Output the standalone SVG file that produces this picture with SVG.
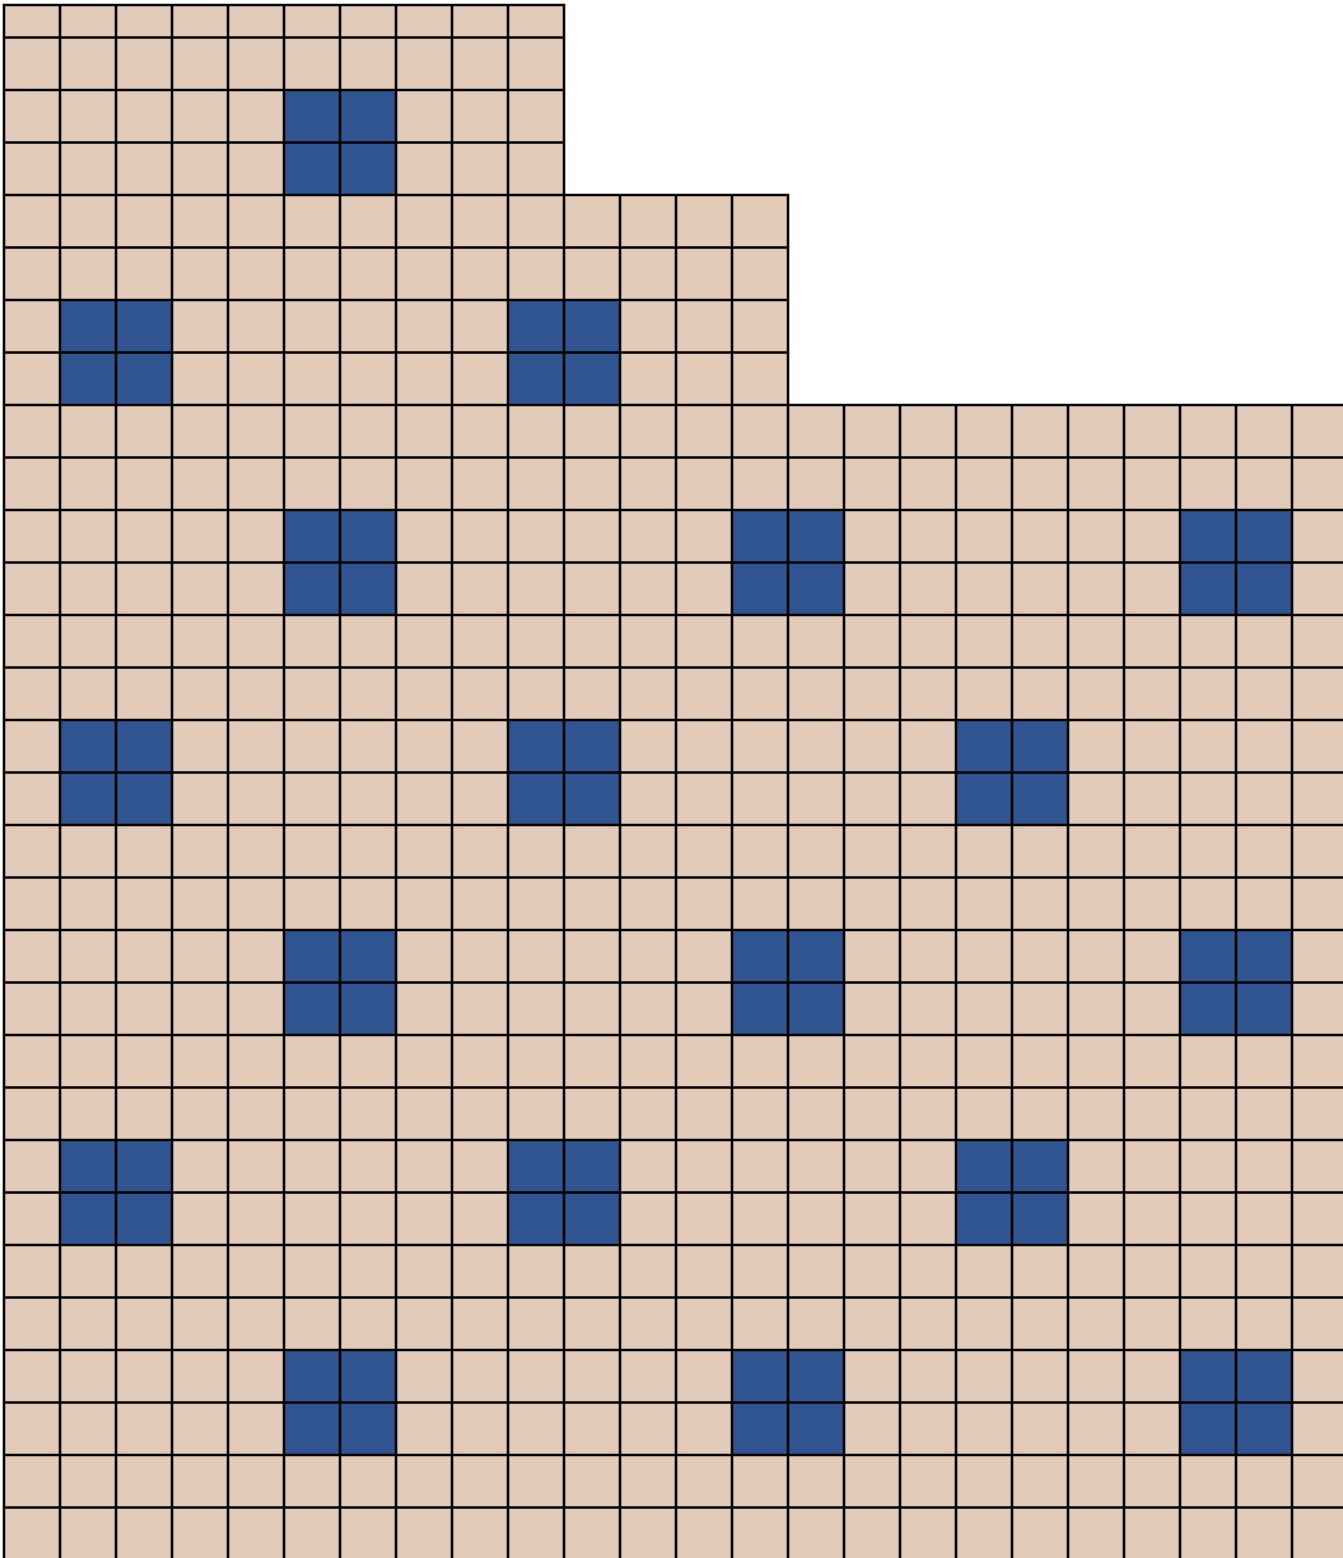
<svg xmlns="http://www.w3.org/2000/svg" width="1343" height="1558" viewBox="0 0 1343 1558">
<defs>
<style>
.bg{fill:#E2CBB8;stroke:none}
.blue{fill:#315591;stroke:none}
.grid{fill:none;stroke:#000;stroke-width:2.6;stroke-linecap:square}
</style>
</defs>
<rect x="0" y="0" width="1343" height="1558" fill="#ffffff"/>
<g id="floor">
<path class="bg" d="M4 5 H564 V195 H788 V405 H1348 V1562 H4 Z"/>
</g>
<g id="tiles">
<rect class="blue" x="284" y="90" width="112" height="105"/>
<rect class="blue" x="60" y="300" width="112" height="105"/>
<rect class="blue" x="508" y="300" width="112" height="105"/>
<rect class="blue" x="284" y="510" width="112" height="105"/>
<rect class="blue" x="732" y="510" width="112" height="105"/>
<rect class="blue" x="1180" y="510" width="112" height="105"/>
<rect class="blue" x="60" y="720" width="112" height="105"/>
<rect class="blue" x="508" y="720" width="112" height="105"/>
<rect class="blue" x="956" y="720" width="112" height="105"/>
<rect class="blue" x="284" y="930" width="112" height="105"/>
<rect class="blue" x="732" y="930" width="112" height="105"/>
<rect class="blue" x="1180" y="930" width="112" height="105"/>
<rect class="blue" x="60" y="1140" width="112" height="105"/>
<rect class="blue" x="508" y="1140" width="112" height="105"/>
<rect class="blue" x="956" y="1140" width="112" height="105"/>
<rect class="blue" x="284" y="1350" width="112" height="105"/>
<rect class="blue" x="732" y="1350" width="112" height="105"/>
<rect class="blue" x="1180" y="1350" width="112" height="105"/>
</g>
<g id="gridlines">
<path class="grid" d="M4 5 V1562 M60 5 V1562 M116 5 V1562 M172 5 V1562 M228 5 V1562 M284 5 V1562 M340 5 V1562 M396 5 V1562 M452 5 V1562 M508 5 V1562 M564 5 V1562
M620 195 V1562 M676 195 V1562 M732 195 V1562 M788 195 V1562
M844 405 V1562 M900 405 V1562 M956 405 V1562 M1012 405 V1562 M1068 405 V1562 M1124 405 V1562 M1180 405 V1562 M1236 405 V1562 M1292 405 V1562 M1348 405 V1562
M4 5 H564 M4 37.5 H564 M4 90 H564 M4 142.5 H564
M4 195 H788 M4 247.5 H788 M4 300 H788 M4 352.5 H788
M4 405 H1348 M4 457.5 H1348 M4 510 H1348 M4 562.5 H1348 M4 615 H1348 M4 667.5 H1348 M4 720 H1348 M4 772.5 H1348 M4 825 H1348 M4 877.5 H1348 M4 930 H1348 M4 982.5 H1348 M4 1035 H1348 M4 1087.5 H1348 M4 1140 H1348 M4 1192.5 H1348 M4 1245 H1348 M4 1297.5 H1348 M4 1350 H1348 M4 1402.5 H1348 M4 1455 H1348 M4 1507.5 H1348"/>
</g>
</svg>
